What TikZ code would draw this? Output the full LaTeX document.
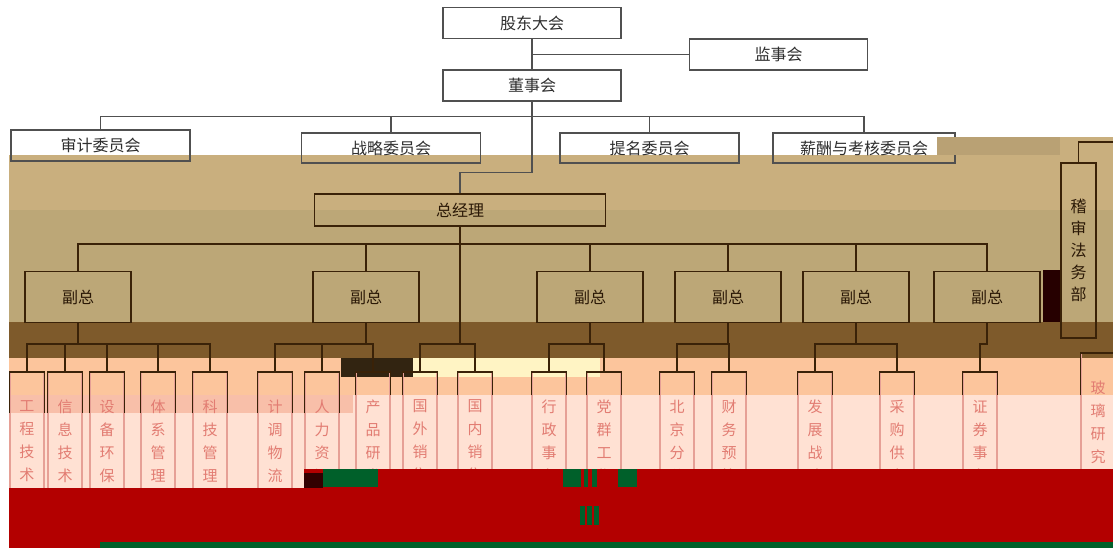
\documentclass[tikz,border=0pt]{standalone}
\usepackage{fontspec}
\newfontfamily\cjk{Noto Sans CJK SC}
\usetikzlibrary{calc}
\definecolor{lnGray}{HTML}{505050}
\definecolor{txtGray}{HTML}{2E2E2E}
\definecolor{lnBrown}{HTML}{3A2208}
\definecolor{txtBrown}{HTML}{2A1806}
\definecolor{bgTanA}{HTML}{C9AF7E}
\definecolor{bgTanB}{HTML}{BCA777}
\definecolor{bgBrown}{HTML}{7E5A2B}
\definecolor{bgPeach}{HTML}{FCC59C}
\definecolor{bgPink}{HTML}{F8BFA9}
\definecolor{bgLight}{HTML}{FFE1D3}
\definecolor{bgRed}{HTML}{B30000}
\definecolor{bgGreen}{HTML}{00602A}
\definecolor{bgCream}{HTML}{FFF4C4}
\definecolor{deptRed}{HTML}{E27C72}
\definecolor{deptLine}{HTML}{E6A096}
\tikzstyle{topbox} = [rectangle, draw=lnGray, line width=1.2pt,
minimum width=178pt,
minimum height=31pt,
text=txtGray,
font=\cjk\fontsize{16}{18}\selectfont]
\tikzstyle{cmtbox} = [rectangle, draw=lnGray, line width=1.2pt,
minimum width=179pt,
minimum height=30pt,
text=txtGray,
font=\cjk\fontsize{16}{18}\selectfont]
\tikzstyle{mgrbox} = [rectangle, draw=lnBrown, line width=1.5pt,
minimum width=106pt,
minimum height=51pt,
text=txtBrown,
font=\cjk\fontsize{16}{18}\selectfont]
\tikzstyle{deptbox} = [rectangle, anchor=north, draw=deptLine, line width=1.2pt,
minimum width=34pt,
minimum height=160pt,
inner sep=0pt,
align=center,
text=deptRed,
font=\cjk\fontsize{15}{23}\selectfont]
\tikzstyle{topline} = [draw=lnGray, line width=1.2pt]
\tikzstyle{brline} = [draw=lnBrown, line width=1.5pt]

\begin{document}
\begin{tikzpicture}[x=1pt, y=-1pt]
		\useasboundingbox (0,0) rectangle (1113,548);
		\fill[white] (0,0) rectangle (1113,548);
		\fill[bgTanA] (9,155) rectangle (1113,210);
		\fill[bgTanA] (1060,137) rectangle (1113,155);
		\fill[bgTanB] (9,210) rectangle (1113,322);
		\fill[bgBrown] (9,322) rectangle (1113,358);
		\fill[bgPeach] (9,358) rectangle (1113,395);
		\fill[black!60!bgBrown] (341,358) rectangle (413,377);
		\fill[bgCream] (413,358) rectangle (600,377);
		\fill[bgPink] (9,395) rectangle (353,413);
		\fill[bgLight] (353,395) rectangle (1113,469);
		\fill[bgLight] (9,413) rectangle (353,488);
		\fill[black!85!red] (1043,270) rectangle (1061,322);
		
		\node (gddh) [topbox] at (532,23) {股东大会};
		\node (jsh) [topbox] at (778.5,54.5) {监事会};
		\node (dsh) [topbox] at (532,85.5) {董事会};
		
		\node (sjwyh) [cmtbox, minimum height=31pt] at (100.5,145.5) {审计委员会};
		\node (zlwyh) [cmtbox] at (391,148) {战略委员会};
		\node (tmwyh) [cmtbox] at (649.5,148) {提名委员会};
		\node (xcwyh) [cmtbox, minimum width=182pt] at (864,148) {薪酬与考核委员会};
		\coordinate (cbus) at (532,117);
		
		\node (zjl) [mgrbox, minimum width=291pt, minimum height=32pt] at (460,210) {总经理};
		\node (jsfw) [mgrbox, minimum width=35pt, minimum height=175pt, align=center, font=\cjk\fontsize{16}{22}\selectfont] at (1078.5,250.5) {稽\\审\\法\\务\\部};
		\coordinate (jsedge) at (1113,142);
		
		\node (fz1) [mgrbox] at (78,297) {副总};
		\node (fz2) [mgrbox] at (366,297) {副总};
		\node (fz3) [mgrbox] at (590,297) {副总};
		\node (fz4) [mgrbox] at (728,297) {副总};
		\node (fz5) [mgrbox] at (856,297) {副总};
		\node (fz6) [mgrbox] at (987,297) {副总};
		\coordinate (zbus) at (460,244);
		\coordinate (dbus) at (460,344);
		
		\node (bm1) [deptbox] at (27,372) {工\\程\\技\\术\\部};
		\node (bm2) [deptbox] at (65,372) {信\\息\\技\\术\\部};
		\node (bm3) [deptbox] at (107,372) {设\\备\\环\\保\\部};
		\node (bm4) [deptbox] at (158,372) {体\\系\\管\\理\\部};
		\node (bm5) [deptbox] at (210,372) {科\\技\\管\\理\\部};
		\node (bm6) [deptbox] at (275,372) {计\\调\\物\\流\\部};
		\node (bm7) [deptbox] at (322,372) {人\\力\\资\\源\\部};
		\node (bm8) [deptbox] at (373,372) {产\\品\\研\\发\\部};
		\node (bm9) [deptbox] at (420,372) {国\\外\\销\\售\\部};
		\node (bm10) [deptbox] at (475,372) {国\\内\\销\\售\\部};
		\node (bm11) [deptbox] at (549,372) {行\\政\\事\\务\\部};
		\node (bm12) [deptbox] at (604,372) {党\\群\\工\\作\\部};
		\node (bm13) [deptbox] at (677,372) {北\\京\\分\\公\\司};
		\node (bm14) [deptbox] at (729,372) {财\\务\\预\\算\\部};
		\node (bm15) [deptbox] at (815,372) {发\\展\\战\\略\\部};
		\node (bm16) [deptbox] at (897,372) {采\\购\\供\\应\\部};
		\node (bm17) [deptbox] at (980,372) {证\\券\\事\\务\\部};
		\node (bm18) [deptbox] at (1098,353) {玻\\璃\\研\\究\\院};
		
		\draw [topline] (gddh) -- (dsh);
		\draw [topline] (gddh.south |- jsh.west) -- (jsh.west);
		\draw [topline] (sjwyh.north) -- ++(0,-13) -| (xcwyh.north);
		\draw [topline] (zlwyh.north) -- (zlwyh.north |- cbus);
		\draw [topline] (tmwyh.north) -- (tmwyh.north |- cbus);
		\draw [topline] (dsh.south) -- ++(0,71) -| (zjl.north);
		\draw [brline] (jsfw.north) |- (jsedge);
		
		\draw [brline] (fz1.north) |- (zbus) -| (fz6.north);
		\foreach \f in {fz2,fz3,fz4,fz5}
			\draw [brline] (\f.north) -- (\f.north |- zbus);
		\draw [brline] (zjl.south) -- (dbus);
		\draw [brline] (bm9.north) |- (dbus) -| (bm10.north);
		
		\draw [brline] (fz1.south) -- (fz1.south |- dbus);
		\draw [brline] (bm1.north) -- (bm1.north |- dbus) -| (bm5.north);
		\foreach \b in {bm2,bm3,bm4}
			\draw [brline] (\b.north) -- (\b.north |- dbus);
		\draw [brline] (fz2.south) -- (fz2.south |- dbus);
		\draw [brline] (bm6.north) -- (bm6.north |- dbus) -| (bm8.north);
		\draw [brline] (bm7.north) -- (bm7.north |- dbus);
		\draw [brline] (fz3.south) -- (fz3.south |- dbus);
		\draw [brline] (bm11.north) -- (bm11.north |- dbus) -| (bm12.north);
		\draw [brline] (fz4.south) -- (fz4.south |- dbus);
		\draw [brline] (bm13.north) -- (bm13.north |- dbus) -| (bm14.north);
		\draw [brline] (fz5.south) -- (fz5.south |- dbus);
		\draw [brline] (bm15.north) -- (bm15.north |- dbus) -| (bm16.north);
		\draw [brline] (fz6.south) -- (fz6.south |- dbus) -| (bm17.north);
		
		\foreach \b in {bm1,bm2,bm3,bm4,bm5,bm6,bm7}
			\draw [brline] ([yshift=-41pt]\b.north west) |- (\b.north east) -- ([yshift=-41pt]\b.north east);
		\foreach \b in {bm8,bm9,bm10,bm11,bm12,bm13,bm14,bm15,bm16,bm17}
			\draw [brline] ([yshift=-23pt]\b.north west) |- (\b.north east) -- ([yshift=-23pt]\b.north east);
		\draw [brline] ([yshift=-42pt]bm18.north west) |- (bm18.north east);
		
		\fill[bgRed] (9,488) rectangle (1113,548);
		\fill[bgRed] (304,469) rectangle (1113,488);
		\fill[black!80!red] (304,473) rectangle (323,488);
		\fill[bgGreen] (100,542) rectangle (1113,548);
		\fill[bgGreen] (323,469) rectangle (378,487);
		\fill[bgGreen] (563,469) rectangle (581,487);
		\fill[bgGreen] (584,469) rectangle (588,487);
		\fill[bgGreen] (592,469) rectangle (597,487);
		\fill[bgGreen] (618,469) rectangle (637,487);
		\fill[bgGreen] (580,506) rectangle (585,525);
		\fill[bgGreen] (587,506) rectangle (592,525);
		\fill[bgGreen] (594,506) rectangle (599,525);
		\fill[black!8!bgTanA] (937,137) rectangle (1060,155);
	\end{tikzpicture}
\end{document}
